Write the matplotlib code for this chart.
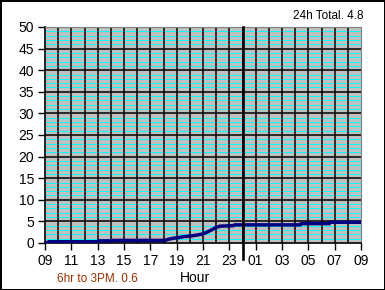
import matplotlib
matplotlib.use("Agg")
import matplotlib.pyplot as plt
import numpy as np

# hours since 09:00 and cumulative rain
hours = [0.0, 0.2, 0.3, 4.0, 4.05, 5.0, 5.05, 9.0, 9.1, 9.36, 9.75, 10.25, 10.5,
         11.26, 12.0, 12.5, 13.0, 13.3, 14.3, 14.4, 19.4, 19.45, 21.6, 21.65, 24.0]
rain = [0.1, 0.1, 0.3, 0.3, 0.5, 0.5, 0.6, 0.6, 0.6, 0.85, 1.1, 1.3, 1.45,
        1.7, 2.1, 2.8, 3.6, 3.9, 4.0, 4.2, 4.2, 4.5, 4.5, 4.8, 4.8]

xtick_pos = [0, 2, 4, 6, 8, 10, 12, 14, 16, 18, 20, 22, 24]
xtick_labels = ["09", "11", "13", "15", "17", "19", "21", "23",
                "01", "03", "05", "07", "09"]
midnight = 15
total_text = "24h Total. 4.8"
part_text = "6hr to 3PM. 0.6"

plt.rcParams['font.family'] = ['Liberation Sans', 'DejaVu Sans']

fig = plt.figure(figsize=(3.85, 2.9), dpi=100)
fig.patch.set_facecolor("white")
fig.patch.set_edgecolor("black")
fig.patch.set_linewidth(2)

ax = fig.add_axes([45 / 385, 47 / 290, 316 / 385, 216 / 290])
ax.set_facecolor("#C0C0C0")
ax.set_xlim(0, 24)
ax.set_ylim(0, 50)

# minor cyan lines, major black grid
for v in np.arange(1, 50, 1):
    if v % 5:
        ax.axhline(v, color="#00FFFF", lw=0.7, zorder=1)
for v in range(5, 50, 5):
    ax.axhline(v, color="black", lw=1.1, zorder=2)
for h in range(1, 24):
    ax.axvline(h, color="black", lw=1.1, zorder=2)

ax.plot(hours, rain, color="#000080", lw=2.5, zorder=4, solid_capstyle="butt")

ax.axvline(midnight, ymin=-0.075, ymax=1, color="black", lw=1.9,
           clip_on=False, zorder=5)

ax.set_xticks(xtick_pos)
ax.set_xticklabels(xtick_labels)
ax.set_yticks(range(0, 51, 5))
ax.tick_params(length=5, width=1, pad=3, labelsize=10, colors="black")

for s in ["top", "right"]:
    ax.spines[s].set_color("#808080")
for s in ["left", "bottom"]:
    ax.spines[s].set_color("black")
    ax.spines[s].set_linewidth(1.2)

fig.text(195 / 385, 1 - 278 / 290, "Hour", ha="center", va="center", fontsize=10)
fig.text(293 / 385, 1 - 16 / 290, total_text, ha="left", va="center", fontsize=8.5)
fig.text(57 / 385, 1 - 279 / 290, part_text, ha="left", va="center",
         fontsize=8.5, color="#993300")

fig.savefig("out.png", dpi=100)
